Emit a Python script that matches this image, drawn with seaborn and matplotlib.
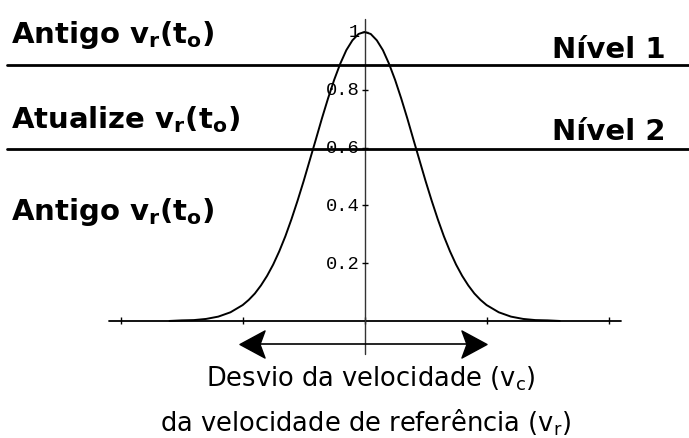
import matplotlib
matplotlib.use("Agg")
import matplotlib.pyplot as plt
from matplotlib.path import Path
import pandas as pd
import seaborn as sns

# Membership curve: speed deviation vs. membership degree
deviation = [-1.6, -1.5, -1.4, -1.3, -1.2, -1.1, -1.0, -0.95, -0.9, -0.85,
             -0.8, -0.75, -0.7, -0.65, -0.6, -0.55, -0.5, -0.45, -0.4, -0.35,
             -0.3, -0.25, -0.2, -0.15, -0.1, -0.05, 0.0,
             0.05, 0.1, 0.15, 0.2, 0.25, 0.3, 0.35, 0.4, 0.45, 0.5,
             0.55, 0.6, 0.65, 0.7, 0.75, 0.8, 0.85, 0.9, 0.95, 1.0,
             1.1, 1.2, 1.3, 1.4, 1.5, 1.6]
membership = [0.0, 0.002, 0.003, 0.007, 0.015, 0.030, 0.055, 0.073, 0.095, 0.123,
              0.156, 0.195, 0.241, 0.293, 0.352, 0.416, 0.484, 0.556, 0.628, 0.701,
              0.770, 0.834, 0.890, 0.937, 0.971, 0.993, 1.0,
              0.993, 0.971, 0.937, 0.890, 0.834, 0.770, 0.701, 0.628, 0.556, 0.484,
              0.416, 0.352, 0.293, 0.241, 0.195, 0.156, 0.123, 0.095, 0.073, 0.055,
              0.030, 0.015, 0.007, 0.003, 0.002, 0.0]

x_ticks = [-2, -1, 0, 1, 2]
y_ticks = [0.2, 0.4, 0.6, 0.8, 1.0]
y_tick_labels = ["0.2", "0.4", "0.6", "0.8", "1"]
level_values = [0.885, 0.595]
level_names = ["Nível 1", "Nível 2"]
zone_labels = [r"Antigo $\mathbf{v_r(t_o)}$",
               r"Atualize $\mathbf{v_r(t_o)}$",
               r"Antigo $\mathbf{v_r(t_o)}$"]
axis_caption = ["Desvio da velocidade (v$_c$)",
                "da velocidade de referência (v$_r$)"]

sns.set_theme(style="white")
plt.rcParams["font.family"] = ["DejaVu Sans"]
plt.rcParams["mathtext.fontset"] = "dejavusans"
plt.rcParams["mathtext.default"] = "regular"

W, H = 689, 439
fig = plt.figure(figsize=(W / 100, H / 100), dpi=100)
fig.patch.set_facecolor("white")
ax = fig.add_axes([0, 0, 1, 1])
ax.set_axis_off()
ax.set_xlim(-2.99, 2.66)
ax.set_ylim(-0.405, 1.114)


def fpos(px, py):
    return px / W, 1 - py / H


df = pd.DataFrame({"deviation": deviation, "membership": membership})
sns.lineplot(data=df, x="deviation", y="membership", color="black",
             linewidth=1.4, ax=ax, legend=False)

# baseline with ticks
ax.plot([x_ticks[0] - 0.1, x_ticks[-1] + 0.1], [0, 0], color="black", lw=1.3)
ax.vlines(x_ticks, -0.012, 0.012, color="black", lw=1.0)

# vertical axis with ticks and labels
ax.plot([0, 0], [-0.115, 1.045], color="#333333", lw=1.0)
ax.hlines(y_ticks, -0.025, 0.025, color="black", lw=1.0)
for v, lab in zip(y_ticks, y_tick_labels):
    ax.text(-0.04, v, lab, ha="right", va="center", fontsize=13.5,
            family="Liberation Mono", color="black")

# level lines
for v in level_values:
    ax.plot([-2.93, 2.66], [v, v], color="black", lw=2.0)

# double-headed arrow below the axis: shaft plus swept-back heads
arrow_y = -0.08
ax.plot([-0.95, 0.93], [arrow_y, arrow_y], color="black", lw=1.2)
head_right = Path([(1, 0), (-1, 1.08), (-0.6, 0), (-1, -1.08), (1, 0)],
                  [Path.MOVETO, Path.LINETO, Path.LINETO, Path.LINETO,
                   Path.CLOSEPOLY])
head_left = Path([(-1, 0), (1, 1.08), (0.6, 0), (1, -1.08), (-1, 0)],
                 [Path.MOVETO, Path.LINETO, Path.LINETO, Path.LINETO,
                  Path.CLOSEPOLY])
ax.plot([0.9], [arrow_y], marker=head_right, markersize=19.5,
        color="black", linestyle="none")
ax.plot([-0.92], [arrow_y], marker=head_left, markersize=19.5,
        color="black", linestyle="none")

# zone labels
for lab, py in zip(zone_labels, [43, 128, 220]):
    fig.text(*fpos(11, py), lab, ha="left", va="baseline", fontsize=21,
             fontweight="bold", color="black")

for lab, py in zip(level_names, [58, 140]):
    fig.text(*fpos(666, py), lab, ha="right", va="baseline", fontsize=21,
             fontweight="bold", color="black")

fig.text(*fpos(371, 387), axis_caption[0], ha="center", va="baseline",
         fontsize=18.5, color="black")
fig.text(*fpos(366, 432), axis_caption[1], ha="center", va="baseline",
         fontsize=18.5, color="black")

fig.savefig("out.png", dpi=100, facecolor="white")
